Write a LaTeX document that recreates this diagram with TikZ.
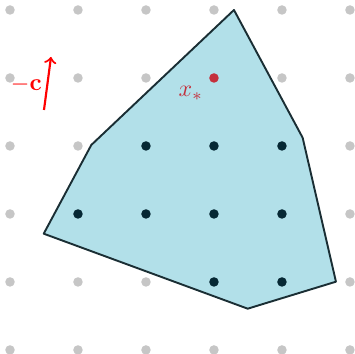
\documentclass[tikz,border=0pt]{standalone}
\definecolor{polyfill}{RGB}{178,224,233}
\definecolor{polyedge}{RGB}{26,46,52}
\definecolor{dotdark}{RGB}{6,40,52}
\definecolor{optred}{RGB}{196,48,60}
\begin{document}
\begin{tikzpicture}[
    gridpt/.style={circle, fill=gray!45, inner sep=0pt, minimum size=1.4mm},
    feaspt/.style={circle, fill=dotdark, inner sep=0pt, minimum size=1.4mm},
    optpt/.style={circle, fill=optred, inner sep=0pt, minimum size=1.4mm}]
	\useasboundingbox (-0.147, -0.059) rectangle (5.074, 5.147);
	% lattice
	\foreach \i in {0,...,5}
		\foreach \j in {0,...,5}
			\node[gridpt] (g\i\j) at (\i, \j) {};
	% feasible region
	\filldraw[fill=polyfill, draw=polyedge, line width=0.8pt, line join=round]
		(3.294, 5.0) -- (4.304, 3.122) -- (4.794, 1.004) -- (3.496, 0.607)
		-- (0.496, 1.71) -- (1.196, 3.015) -- cycle;
	\foreach \i/\j in {2/3, 3/3, 4/3, 1/2, 2/2, 3/2, 4/2, 3/1, 4/1}
		\node[feaspt] (f\i\j) at (\i, \j) {};
	\node[optpt] (xopt) at (3, 4) {};
	\node[optred] (xlab) at (2.66, 3.77) {$x_*$};
	% objective direction
	\coordinate (ctail) at (0.5, 3.53);
	\coordinate (chead) at (0.603, 4.31);
	\draw[->, red, line width=0.9pt] (ctail) -- (chead);
	\node[red] (clab) at (0.24, 3.9) {$-\mathbf{c}$};
\end{tikzpicture}
\end{document}
